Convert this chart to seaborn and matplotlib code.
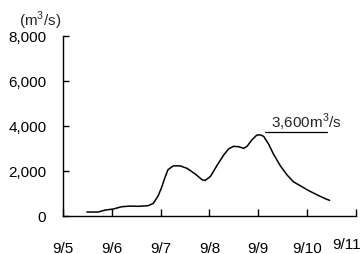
import pandas as pd
import numpy as np
import matplotlib
matplotlib.use("Agg")
import matplotlib.pyplot as plt
import matplotlib.transforms as mtransforms
import seaborn as sns

# discharge hydrograph, days counted from 9/5 00:00
days = [0.49, 0.72, 0.86, 1.03, 1.20, 1.37, 1.54, 1.74, 1.85, 1.95, 2.02, 2.09,
        2.15, 2.26, 2.40, 2.54, 2.71, 2.85, 2.91, 3.02, 3.15, 3.29, 3.39, 3.49,
        3.60, 3.70, 3.77, 3.87, 3.97, 4.04, 4.11, 4.21, 4.31, 4.45, 4.59, 4.72,
        4.86, 5.00, 5.13, 5.27, 5.37, 5.46]
flow = [165, 165, 250, 300, 400, 430, 420, 445, 550, 890, 1260, 1710,
        2050, 2220, 2220, 2110, 1855, 1600, 1570, 1750, 2225, 2700, 2970, 3090,
        3070, 3000, 3090, 3380, 3590, 3600, 3530, 3190, 2745, 2225, 1810, 1510,
        1335, 1155, 1010, 860, 760, 685]
tick_labels = ["9/5", "9/6", "9/7", "9/8", "9/9", "9/10", "9/11"]
y_ticks = [0, 2000, 4000, 6000, 8000]
peak_label = "3,600m$^3$/s"
unit_label = "(m$^3$/s)"

sns.set_theme(style="white")
plt.rcParams["font.family"] = ["Liberation Sans", "DejaVu Sans"]
plt.rcParams["mathtext.fontset"] = "custom"
plt.rcParams["mathtext.rm"] = "Liberation Sans"

df = pd.DataFrame({"day": days, "flow": flow})

fig = plt.figure(figsize=(3.64, 2.55), dpi=100)
ax = fig.add_axes([0.173, 0.150, 0.805, 0.705])
sns.lineplot(data=df, x="day", y="flow", color="black", linewidth=1.1, ax=ax)

ax.set_xlim(0, 6)
ax.set_ylim(0, 8000)
ax.set_xticks(range(len(tick_labels)))
ax.set_xticklabels(tick_labels)
ax.set_yticks(y_ticks)
ax.set_yticklabels([f"{v:,}" for v in y_ticks])
ax.set_xlabel("")
ax.set_ylabel("")

for s in ["top", "right"]:
    ax.spines[s].set_visible(False)
for s in ["left", "bottom"]:
    ax.spines[s].set_color("black")
    ax.spines[s].set_linewidth(1.0)

ax.tick_params(axis="x", direction="in", length=5, width=1, color="black",
               pad=18, labelsize=11, labelcolor="black")
ax.tick_params(axis="y", direction="in", length=4, width=1, color="black",
               pad=12, labelsize=11, labelcolor="black")
ax.tick_params(bottom=True, left=True)

# last date label sits a bit left and higher, like the original
last = ax.get_xticklabels()[-1]
last.set_transform(last.get_transform() +
                   mtransforms.ScaledTranslation(-0.09, 0.04, fig.dpi_scale_trans))

# peak annotation with underline
i = int(np.argmax(flow))
x0 = days[i] + 0.09
ax.plot([x0, x0 + 1.28], [flow[i] + 110, flow[i] + 110], color="black", linewidth=0.9)
ax.text(x0 + 0.12, flow[i] + 140, peak_label, fontsize=11, ha="left", va="bottom")

fig.text(0.11, 0.92, unit_label, fontsize=11, ha="center", va="center")

fig.savefig("out.png", dpi=100)
